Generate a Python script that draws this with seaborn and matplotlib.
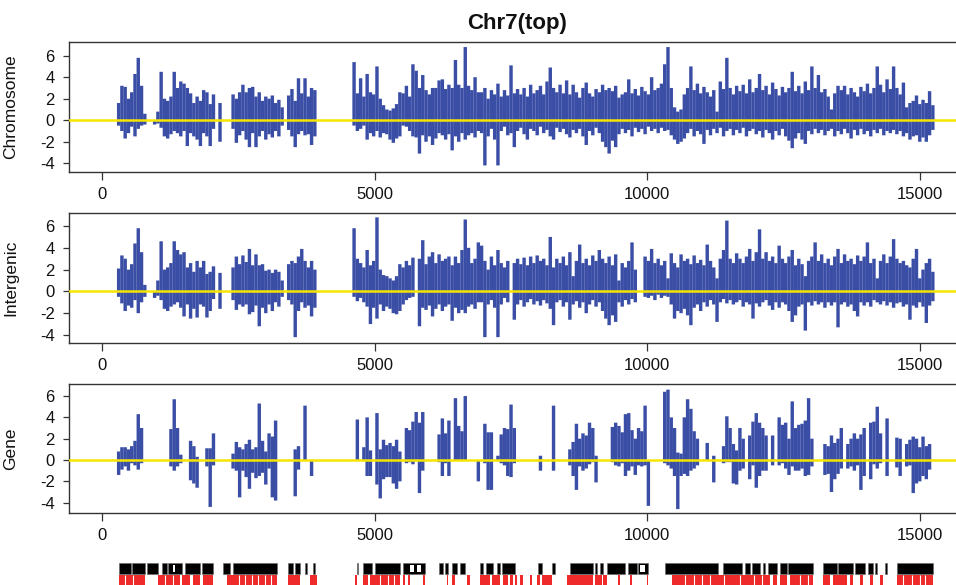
import numpy as np
import matplotlib
matplotlib.use("Agg")
import matplotlib.pyplot as plt
import seaborn as sns

N = np.nan

# ---------------- data ----------------
# probe grid: probe i sits at genomic coordinate probe_start + probe_step * i
probe_start = 300
probe_step = 60

chrom_hi = [
    1.6, 3.2, 3.1, 2.0, 2.6, 4.3, 5.8, 3.2, 0.6, N,
    N, 0.0, 0.8, 4.5, 2.0, 1.8, 2.2, 4.5, 3.0, 3.6,
    3.4, 3.0, 2.5, 1.6, 2.2, 1.8, 2.8, 2.6, 1.5, 2.4,
    N, 1.6, N, N, N, 2.4, 2.0, 2.6, 3.3, 2.6,
    3.0, 3.1, 2.2, 2.6, 1.8, 2.2, 2.0, 2.3, 1.6, 1.9,
    1.2, N, 2.3, 2.9, 1.8, 3.9, 2.5, 3.9, 2.2, 3.0,
    2.8, N, N, N, N, N, N, N, N, N,
    N, N, 5.4, 2.5, 3.9, 2.2, 4.3, 2.6, 2.4, 5.0,
    2.0, 1.4, 1.0, 0.9, 1.1, 1.5, 2.6, 2.5, 3.2, 2.2,
    5.2, 4.6, 3.0, 4.2, 2.8, 2.4, 3.0, 3.0, 3.7, 3.8,
    2.9, 3.3, 3.0, 5.6, 3.3, 3.0, 6.8, 3.2, 2.8, 4.0,
    2.6, 2.6, 3.0, 2.0, 2.8, 2.4, 3.4, 2.2, 2.8, 2.3,
    5.1, 2.5, 2.9, 2.4, 3.0, 2.2, 3.3, 2.5, 2.8, 3.2,
    2.4, 3.6, 4.9, 3.0, 2.6, 3.3, 2.5, 3.7, 2.4, 3.3,
    2.6, 2.1, 3.0, 3.5, 2.5, 2.2, 2.9, 2.6, 3.3, 2.8,
    3.0, 2.7, 3.2, 2.1, 2.4, 2.6, 3.8, 2.5, 2.9, 2.3,
    3.1, 2.7, 2.4, 4.0, 2.8, 3.0, 3.4, 5.2, 6.8, 3.0,
    1.2, 0.8, 1.0, 2.4, 3.0, 5.0, 2.8, 3.4, 2.5, 3.1,
    2.6, 2.2, 2.8, 0.8, 3.6, 2.9, 5.8, 3.0, 2.4, 3.2,
    2.7, 3.3, 2.5, 3.8, 2.6, 3.0, 4.3, 2.8, 3.2, 2.4,
    3.5, 2.9, 2.3, 3.1, 2.6, 3.0, 4.5, 2.7, 3.2, 2.5,
    3.6, 2.8, 5.0, 3.0, 4.2, 2.6, 2.9, 2.2, 1.0, 2.5,
    3.2, 2.8, 3.2, 2.4, 3.0, 2.6, 2.2, 3.1, 2.7, 3.4,
    2.5, 3.0, 5.0, 3.3, 2.6, 3.8, 2.9, 5.0, 3.0, 2.4,
    3.5, 1.2, 1.6, 1.8, 2.3, 1.5, 1.9, 1.6, 2.7, 1.4,
]
chrom_lo = [
    -0.5, -1.0, -1.7, -1.2, -0.6, -1.5, -0.8, -0.5, -0.4, N,
    N, -0.4, -0.3, -0.7, -1.5, -1.7, -1.3, -1.0, -1.2, -1.5,
    -1.0, -2.4, -1.2, -1.5, -1.8, -2.4, -1.2, -1.5, -2.4, -0.8,
    N, -2.0, N, N, N, -0.8, -2.1, -1.4, -1.0, -1.8,
    -2.5, -1.2, -2.5, -1.5, -1.0, -1.8, -1.3, -1.6, -1.0, -1.5,
    -0.5, N, -0.9, -1.5, -2.5, -1.3, -1.0, -1.4, -1.3, -2.3,
    -1.5, N, N, N, N, N, N, N, N, N,
    N, N, -0.5, -1.0, -0.8, -0.5, -1.8, -1.2, -1.5, -1.0,
    -1.6, -1.2, -1.3, -1.8, -2.1, -1.7, -1.5, -0.5, -0.6, -1.0,
    -1.5, -1.6, -3.1, -1.4, -2.0, -1.5, -2.3, -1.7, -1.2, -1.4,
    -1.8, -1.3, -2.8, -1.5, -2.0, -1.2, -1.8, -1.4, -1.2, -1.6,
    -1.0, -1.2, -4.2, -1.5, -0.8, -1.8, -4.2, -1.0, -0.6, -1.4,
    -1.2, -2.5, -1.0, -0.7, -1.3, -1.8, -0.8, -1.0, -1.4, -0.6,
    -1.2, -0.9, -1.5, -1.8, -0.7, -1.1, -0.8, -1.3, -1.6, -0.9,
    -1.2, -0.8, -1.5, -2.3, -1.0, -1.4, -0.7, -1.2, -2.0, -2.5,
    -3.1, -1.9, -2.5, -1.3, -0.8, -1.2, -0.9, -1.5, -0.7, -1.1,
    -0.8, -1.3, -0.6, -1.0, -0.8, -1.2, -0.7, -1.0, -0.9, -1.4,
    -1.8, -2.2, -2.0, -1.7, -1.2, -0.8, -1.5, -1.0, -1.3, -2.2,
    -0.9, -1.4, -0.8, -1.2, -0.7, -1.5, -1.0, -0.8, -1.4, -0.9,
    -1.2, -0.7, -1.5, -1.0, -0.8, -1.3, -1.0, -1.6, -0.9, -1.2,
    -1.8, -1.0, -1.4, -0.8, -1.5, -1.9, -2.6, -1.7, -1.2, -1.8,
    -2.2, -1.0, -1.3, -0.8, -1.2, -0.9, -1.4, -1.0, -0.8, -1.5,
    -1.0, -1.3, -0.8, -1.2, -1.7, -0.9, -1.4, -0.8, -1.3, -1.0,
    -1.5, -0.9, -1.2, -0.8, -1.4, -1.0, -1.2, -0.9, -1.3, -1.0,
    -1.5, -1.2, -1.8, -1.5, -1.4, -2.0, -1.6, -2.0, -1.4, -0.9,
]

inter_hi = [
    2.1, 3.3, 3.0, 2.0, 2.5, 4.4, 5.8, 3.6, 0.6, N,
    N, 0.0, 1.0, 4.6, 2.0, 2.2, 2.6, 4.6, 3.8, 3.4,
    3.6, 2.2, 2.6, 1.8, 2.8, 2.2, 2.8, 1.6, 1.8, 2.3,
    N, 1.7, N, N, N, 2.2, 3.2, 2.5, 3.3, 2.7,
    3.9, 2.4, 3.4, 2.4, 2.5, 1.9, 2.0, 1.7, 2.0, 1.8,
    1.0, N, 2.5, 2.8, 2.6, 3.2, 3.9, 2.8, 2.2, 2.8,
    2.0, N, N, N, N, N, N, N, N, N,
    N, N, 5.8, 3.0, 2.6, 2.2, 3.8, 2.4, 2.8, 6.8,
    2.0, 1.5, 1.4, 1.2, 1.0, 1.4, 2.5, 2.2, 2.8, 2.4,
    3.1, N, 3.0, 4.7, 2.5, 3.2, 3.6, 2.6, 3.4, 2.8,
    3.0, 3.2, 2.4, 3.2, 2.6, 3.8, 6.6, 4.0, 2.6, 3.0,
    4.5, 4.2, 2.8, 2.0, 3.2, 2.4, 3.8, 2.6, 2.2, 2.8,
    N, 2.6, 3.0, 2.5, 3.1, 2.4, 3.2, 2.6, 3.3, 2.8,
    3.0, 2.4, 5.0, 2.2, 3.0, 2.6, 3.2, 2.4, 3.6, 1.4,
    2.8, 4.3, 2.6, 3.0, 2.4, 3.3, 2.8, 3.8, 3.0, 2.6,
    3.2, 2.4, 3.4, 1.0, 2.6, 2.2, 2.8, 4.5, 2.0, N,
    N, 3.2, 2.8, 3.9, 2.6, 3.0, 2.4, 2.8, 1.2, 3.5,
    2.6, 2.2, 3.4, 2.8, 3.0, 2.5, 3.3, 2.6, 2.9, 2.4,
    4.3, 2.8, 2.2, 1.2, 3.0, 3.8, 6.5, 3.0, 2.6, 3.5,
    3.0, 2.6, 3.2, 3.9, 2.8, 3.6, 5.7, 3.0, 3.6, 2.8,
    3.2, 2.6, 4.2, 3.0, 2.6, 3.2, 3.8, 2.4, 3.0, 2.5,
    1.4, 2.8, 3.2, 4.5, 2.8, 3.4, 2.6, 3.0, 2.4, 3.2,
    3.9, 2.6, 3.4, 2.8, 3.0, 2.5, 3.3, 2.8, 3.2, 4.5,
    2.6, 3.0, 1.2, 2.8, 3.4, 2.6, 3.2, 4.8, 3.0, 2.6,
    2.8, 2.4, 2.2, 3.0, 3.9, 1.2, 2.0, 2.6, 3.0, 1.8,
]
inter_lo = [
    -0.5, -1.1, -1.8, -1.3, -1.5, -0.8, -2.0, -1.0, -0.5, N,
    N, -0.6, -0.4, -0.8, -1.6, -1.8, -1.4, -1.2, -1.0, -1.5,
    -2.3, -1.2, -2.5, -1.6, -2.4, -1.2, -1.4, -2.4, -1.8, -0.7,
    N, -1.6, N, N, N, -0.8, -1.7, -1.2, -1.4, -1.2,
    -2.1, -1.9, -1.3, -3.2, -1.5, -2.0, -1.2, -1.8, -1.0, -1.4,
    -0.5, N, -0.8, -1.2, -4.2, -1.8, -1.0, -1.5, -1.3, -2.3,
    -1.5, N, N, N, N, N, N, N, N, N,
    N, N, -0.5, -0.9, -0.6, -1.0, -1.4, -3.0, -1.5, -2.5,
    -1.2, -1.8, -1.4, -1.6, -2.0, -2.1, -1.8, -1.2, -0.8, -0.6,
    -0.5, N, -3.2, -1.5, -1.7, -1.3, -2.3, -1.6, -1.2, -1.8,
    -1.4, -1.2, -2.7, -1.5, -2.0, -1.7, -2.0, -1.4, -1.2, -1.6,
    -1.0, -1.0, -4.2, -1.2, -0.8, -1.5, -4.2, -1.2, -0.6, -1.0,
    N, -2.6, -1.2, -0.8, -1.4, -1.0, -0.7, -1.2, -0.9, -1.3,
    -0.8, -1.1, -1.6, -3.1, -1.0, -0.8, -1.4, -1.0, -2.6, -1.2,
    -0.9, -1.5, -1.0, -2.0, -1.2, -0.8, -1.4, -1.0, -1.8, -2.5,
    -3.1, -2.2, -2.8, -1.0, -1.4, -0.8, -1.2, -0.7, -1.0, N,
    N, -0.5, -0.6, -0.4, -0.8, -0.3, -0.6, -0.4, -0.5, -1.2,
    -2.5, -1.8, -2.0, -1.6, -2.2, -3.1, -1.5, -1.2, -1.8, -1.0,
    -1.4, -0.8, -1.2, -2.8, -1.0, -0.7, -1.1, -0.8, -1.2, -1.0,
    -0.8, -1.4, -1.0, -1.2, -2.5, -1.1, -1.4, -1.0, -0.8, -1.3,
    -1.7, -1.0, -1.5, -1.0, -1.2, -1.8, -2.8, -2.2, -1.4, -1.2,
    -3.6, -1.0, -1.3, -0.9, -1.2, -1.0, -1.5, -1.0, -1.3, -1.0,
    -3.3, -1.2, -1.0, -1.4, -1.2, -1.8, -2.3, -1.0, -1.3, -1.0,
    -1.4, -0.8, -1.0, -1.2, -0.9, -1.3, -1.0, -1.5, -1.1, -1.0,
    -1.4, -1.2, -2.6, -1.3, -1.5, -1.0, -1.4, -2.9, -1.3, -0.9,
]

gene_hi = [
    0.8, 1.2, 1.2, 1.0, 1.3, 1.8, 4.3, 3.0, N, N,
    N, N, N, N, N, N, 2.9, 5.7, 3.0, 0.5,
    N, N, 1.8, 1.3, 0.3, N, N, 1.1, 1.1, 2.5,
    N, N, N, N, N, 0.6, 1.7, 1.2, 1.0, 1.5,
    1.9, 1.0, 1.2, 5.3, 1.8, 0.8, 2.5, 2.2, 3.7, N,
    N, N, N, N, 1.0, 1.3, N, 5.1, N, 0.0,
    N, N, N, N, N, N, N, N, N, N,
    N, N, N, 3.8, N, 1.2, 4.0, 0.9, N, 4.4,
    1.0, 1.9, 1.4, 1.6, 1.3, 1.9, 0.8, N, 3.0, 2.8,
    3.6, 4.5, 3.5, 4.5, N, N, N, N, 2.4, 3.9,
    2.5, 3.7, N, 5.8, 3.2, 2.7, 6.0, N, N, N,
    0.0, N, 3.4, 2.6, 2.6, N, 0.4, 2.4, 3.0, 2.9,
    5.2, 3.0, N, N, N, N, N, N, N, 0.4,
    N, N, N, 5.1, N, N, N, N, 1.0, 1.7,
    3.4, 2.0, 2.5, 2.3, 3.5, 3.0, 0.4, N, N, N,
    N, 3.1, 3.5, 3.2, 2.6, 4.3, 4.4, 2.8, 2.0, 3.0,
    2.7, 5.1, 0.0, N, N, N, N, 6.4, 6.6, 4.0,
    3.0, 0.7, 0.6, 4.0, 5.7, 4.8, 2.7, 2.0, N, N,
    1.6, N, 0.4, N, N, 1.3, 4.1, 3.0, 1.5, 0.9,
    3.0, 2.0, N, 2.3, 3.6, 4.4, 3.5, 3.0, 2.3, N,
    2.3, N, 4.0, 3.3, 3.5, 2.0, 5.5, 3.0, 3.3, 3.4,
    3.7, 5.8, 2.0, N, N, N, 1.5, 1.3, 2.3, 1.6,
    2.0, 3.0, N, 1.5, 2.0, 2.5, 2.0, 2.4, 3.0, N,
    3.5, 3.6, 5.0, 2.5, N, 3.9, N, N, 2.1, 2.0,
    N, 1.5, 1.9, 2.2, 2.0, 1.2, 2.2, 1.3, 1.5, N,
]
gene_lo = [
    -1.4, -0.9, -0.6, -1.0, -0.3, -0.5, -0.9, -0.3, N, N,
    N, N, N, N, N, N, -0.6, -1.0, -0.6, -0.3,
    N, N, -1.9, -2.2, -2.6, N, N, -0.6, -4.4, -0.5,
    N, N, N, N, N, -0.8, -1.0, -3.5, -1.0, -1.6,
    -2.7, -1.2, -1.7, -1.5, -1.2, -2.3, -0.8, -3.5, -3.8, N,
    N, N, N, N, -3.4, -0.9, N, -0.1, N, -1.5,
    N, N, N, N, N, N, N, N, N, N,
    N, N, N, 0.0, N, -0.1, -1.5, -1.5, N, -2.3,
    -3.6, -1.8, -1.6, -1.6, -2.2, -2.7, -2.0, N, -0.3, -0.2,
    -0.4, -0.1, -3.1, -1.0, N, N, N, N, -0.2, -1.5,
    -0.3, -1.5, N, -0.1, 0.0, -0.1, -0.1, N, N, N,
    -2.0, N, -0.3, -2.8, -2.8, N, -0.1, -0.3, -0.5, -1.5,
    -1.6, -0.3, N, N, N, N, N, N, N, -1.0,
    N, N, N, -1.0, N, N, N, N, -0.5, -1.5,
    -2.8, -0.6, -1.0, -0.8, -0.4, -0.2, -2.1, N, N, N,
    N, -0.2, -0.5, -0.6, -0.3, -1.5, -1.0, -0.6, -1.4, -0.5,
    -0.6, -0.5, -4.3, N, N, N, N, -0.3, -0.5, -0.8,
    -1.5, -4.6, -1.5, -1.3, -1.5, -1.0, -0.8, -0.5, N, N,
    0.0, N, -2.1, N, N, -0.3, -0.2, -0.2, -2.2, -2.3,
    -1.0, -0.8, N, -1.8, -0.5, -2.6, -1.5, -1.0, -1.0, N,
    -0.5, N, -0.5, -0.3, -0.8, -1.4, -0.6, -1.0, -1.0, -0.8,
    -1.5, -1.4, -0.6, N, N, N, -1.4, -1.3, -3.0, -1.8,
    -1.3, -0.8, N, -0.8, -0.6, -1.0, -0.5, -2.8, -1.5, N,
    -1.8, -0.4, -0.8, -0.3, N, -1.5, N, N, -0.7, -1.5,
    N, -0.6, -0.5, -3.1, -2.2, -2.0, -1.5, -1.8, -0.9, N,
]

panel_names = ["Chromosome", "Intergenic", "Gene"]
x_ticks = [0, 5000, 10000, 15000]
y_ticks = [-4, -2, 0, 2, 4, 6]
title = "Chr7(top)"

# annotation tracks (start, end) in genomic coordinates
black_track = [
    (312, 530), (545, 784), (814, 1028), (1089, 1181), (1212, 1456), (1518, 1793),
    (1824, 2037), (2209, 2343), (2404, 3200), (3414, 3505), (3536, 3628),
    (3720, 3750), (3873, 3903), (4668, 4690), (4790, 4943), (5004, 5463),
    (5524, 5922), (6185, 6258), (6289, 6350), (6411, 6503), (6564, 6656),
    (6931, 6992), (7041, 7175), (7236, 7298), (7328, 7573), (8001, 8062),
    (8246, 8307), (8582, 9010), (9041, 9071), (9133, 9194), (9255, 9591),
    (9653, 9806), (9836, 10020), (10325, 11304), (11396, 11732), (11793, 11885),
    (11916, 12069), (12130, 12161), (12222, 12375), (12436, 12558), (12589, 13048),
    (13231, 13476), (13506, 13782), (13812, 13996), (14057, 14149), (14179, 14210),
    (14363, 14393), (14577, 15250),
]
black_holes = [(5650, 5720), (5770, 5840), (9870, 9950), (1300, 1330), (2150, 2175)]
red_track = [
    (312, 784), (1028, 1426), (1456, 1609), (1671, 1793), (1854, 2037), (2282, 3200),
    (3414, 3628), (3811, 3934), (4637, 4668), (4790, 4882), (4913, 5463),
    (5524, 5555), (5616, 5647), (5891, 5922), (6319, 6350), (6411, 6472),
    (6686, 6747), (6931, 7114), (7145, 7298), (7359, 7450), (7481, 7542),
    (7573, 7603), (7665, 7726), (7848, 7879), (7970, 8031), (8062, 8246),
    (8521, 9010), (9041, 9163), (9194, 9255), (9469, 9500), (9683, 9714),
    (9989, 10020), (10448, 12252), (12314, 12375), (12436, 12558), (12619, 13048),
    (13231, 13353), (13414, 13659), (13721, 13782), (13904, 13966), (14088, 14149),
    (14271, 14332), (14577, 15250),
]
red_gaps = [420, 560, 1150, 1300, 2500, 2620, 2740, 2860, 2980, 3100, 5100, 5250,
            5350, 10700, 10850, 11000, 11150, 11400, 11700, 11950, 12100, 12800,
            12950, 14700, 14850, 15000, 15100]

# ---------------- style ----------------
sns.set_theme(style="ticks")
plt.rcParams["font.family"] = ["Liberation Sans", "DejaVu Sans"]
plt.rcParams["axes.unicode_minus"] = False

BLUE = "#3B4EA6"
YELLOW = "#F6E500"
SPINE = "#333333"

W, H = 956, 585
fig = plt.figure(figsize=(W / 100, H / 100), dpi=100)


def rect(l, t, r, b):
    return [l / W, 1 - b / H, (r - l) / W, (b - t) / H]


XLIM = (-611, 15830)
panels = [
    (rect(69, 42, 965, 172), chrom_hi, chrom_lo, (-4.81, 7.27)),
    (rect(69, 213.3, 965, 342.7), inter_hi, inter_lo, (-4.71, 7.17)),
    (rect(69, 384.3, 965, 512.7), gene_hi, gene_lo, (-4.94, 7.10)),
]

for (r, hi, lo, ylim), name in zip(panels, panel_names):
    ax = fig.add_axes(r)
    n = min(len(hi), len(lo))
    x = probe_start + probe_step * np.arange(n)
    hi_a = np.asarray(hi[:n], float)
    lo_a = np.asarray(lo[:n], float)
    m = ~(np.isnan(hi_a) | np.isnan(lo_a))
    lc = ax.vlines(x[m], lo_a[m], hi_a[m], color=BLUE, linewidth=2.45, zorder=2,
                   antialiased=True)
    lc.set_snap(False)
    lc.set_capstyle("butt")
    ax.axhline(0, color=YELLOW, linewidth=1.8, zorder=3)
    ax.set_xlim(*XLIM)
    ax.set_ylim(*ylim)
    ax.set_xticks(x_ticks)
    ax.set_xticklabels([str(t) for t in x_ticks])
    ax.set_yticks(y_ticks)
    ax.set_yticklabels([str(t) for t in y_ticks])
    for s in ["left", "top", "bottom"]:
        ax.spines[s].set_visible(True)
        ax.spines[s].set_color(SPINE)
        ax.spines[s].set_linewidth(1.0)
    ax.spines["right"].set_visible(False)
    ax.tick_params(axis="x", length=5.5, width=0.9, pad=5.5, labelsize=12,
                   colors=SPINE, labelcolor="#111111", direction="out")
    ax.tick_params(axis="y", length=4.2, width=0.9, pad=6.0, labelsize=12,
                   colors=SPINE, labelcolor="#111111", direction="out")
    ax.set_ylabel(name, fontsize=12.5, color="#111111")
    ax.yaxis.set_label_coords(-0.057, 0.5)
    ax.set_facecolor("white")

fig.text(517 / W, 1 - 29 / H, title, ha="center", va="baseline",
         fontsize=16, fontweight="bold", color="#111111")

# annotation track strip (partly below the figure edge)
axt = fig.add_axes(rect(69, 560, 965, 600))
axt.set_xlim(*XLIM)
axt.set_ylim(40, 0)
axt.axis("off")
axt.broken_barh([(s, e - s) for s, e in black_track], (3.3, 10.7),
                facecolors="black", edgecolors="#666666", linewidth=0.4)
axt.broken_barh([(s, e - s) for s, e in black_holes], (5.0, 7.3),
                facecolors="white", edgecolors="none")
axt.broken_barh([(s, e - s) for s, e in red_track], (15.3, 25),
                facecolors="#EE2A2A", edgecolors="none")
axt.vlines(red_gaps, 15.3, 40, color="white", linewidth=0.8)

fig.savefig("out.png", dpi=100, facecolor="white")
